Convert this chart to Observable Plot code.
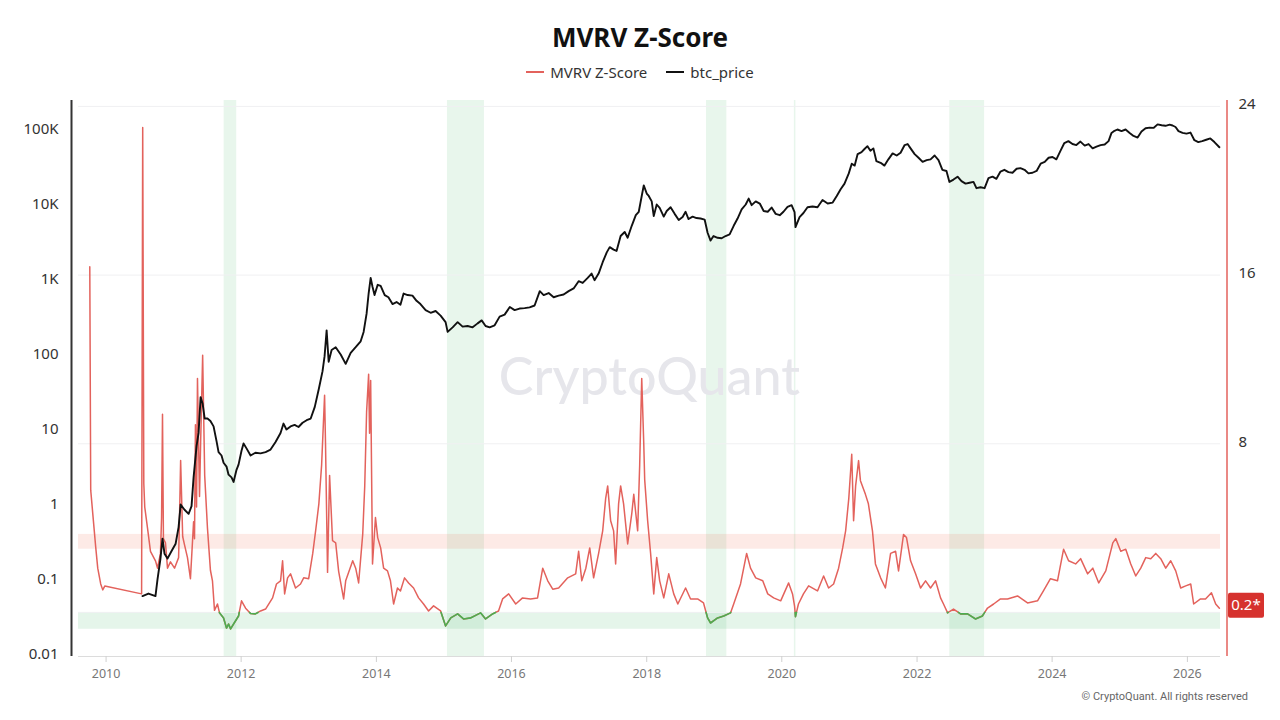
<!DOCTYPE html>
<html>
<head>
<meta charset="utf-8">
<script src="https://cdn.jsdelivr.net/npm/d3@7"></script>
<script src="https://cdn.jsdelivr.net/npm/@observablehq/plot@0.6"></script>
<style>
  body { margin: 0; background: #fff; font-family: "Noto Sans", sans-serif; }
  #wrap { position: relative; width: 1280px; height: 720px; overflow: hidden; }
  #head { height: 88px; text-align: center; }
  #head h1 { margin: 0; padding-top: 20px; font-size: 26px; line-height: 34px; font-weight: 700; color: #111; }
  .legend { display: flex; justify-content: center; gap: 19px; margin-top: 8px; height: 20px; align-items: center; font-size: 15px; color: #333; }
  .legend span.item { display: flex; align-items: center; gap: 6px; }
  .legend i { display: inline-block; width: 18px; height: 2px; }
  #credit { position: absolute; right: 32px; top: 690px; font: 11px Roboto, sans-serif; color: #666; }
  #chart svg { display: block; }
</style>
</head>
<body>
<div id="wrap">
  <div id="head">
    <h1>MVRV Z-Score</h1>
    <div class="legend">
      <span class="item"><i style="background:#e3625c"></i>MVRV Z-Score</span>
      <span class="item"><i style="background:#111"></i>btc_price</span>
    </div>
  </div>
  <div id="chart"></div>
  <div id="credit">© CryptoQuant. All rights reserved</div>
</div>
<script>
// MVRV Z-Score (right axis, linear)
const mvrvZ = [
  ["2009-10-05",16.4],["2009-10-10",5.8],["2009-10-21",4.7],["2009-11-06",3.1],["2009-11-17",2.1],
  ["2009-12-03",1.35],["2009-12-14",1.07],["2009-12-25",1.25],["2010-07-12",0.88],["2010-07-18",23.0],
  ["2010-07-24",6.1],["2010-07-29",5.0],["2010-08-13",4.0],["2010-08-29",2.9],["2010-09-25",2.45],
  ["2010-10-06",2.1],["2010-10-22",2.8],["2010-10-28",4.5],["2010-11-02",9.4],["2010-11-07",3.5],
  ["2010-11-18",3.3],["2010-11-29",2.1],["2010-12-15",2.4],["2011-01-06",2.1],["2011-01-28",2.6],
  ["2011-02-02",4.5],["2011-02-08",7.2],["2011-02-19",3.6],["2011-03-01",3.2],["2011-03-17",2.6],
  ["2011-04-02",1.6],["2011-04-19",4.3],["2011-04-24",3.5],["2011-04-29",8.9],["2011-05-05",5.0],
  ["2011-05-10",11.1],["2011-05-21",5.5],["2011-05-27",8.0],["2011-06-07",12.2],["2011-06-18",6.5],
  ["2011-07-03",4.0],["2011-07-19",2.0],["2011-07-30",1.5],["2011-08-10",0.1],["2011-08-26",0.4],
  ["2011-09-06",-0.02],["2011-09-28",-0.26],["2011-10-14",-0.74],["2011-10-25",-0.55],["2011-11-05",-0.78],
  ["2011-11-21",-0.55],["2011-12-18",-0.17],["2012-01-03",0.55],["2012-01-25",0.2],["2012-02-21",-0.05],
  ["2012-03-18",-0.07],["2012-04-15",0.07],["2012-05-12",0.16],["2012-06-19",0.69],["2012-07-10",1.35],
  ["2012-08-01",1.5],["2012-08-12",2.45],["2012-08-23",0.88],["2012-09-08",1.64],["2012-09-24",1.83],
  ["2012-10-21",1.16],["2012-11-17",1.35],["2012-12-04",1.64],["2012-12-31",1.6],["2013-01-22",2.8],
  ["2013-02-07",3.9],["2013-02-24",5.15],["2013-03-11",7.0],["2013-03-27",10.3],["2013-04-01",8.0],
  ["2013-04-12",1.9],["2013-04-23",6.5],["2013-05-09",3.4],["2013-05-26",3.3],["2013-06-11",1.95],
  ["2013-07-08",0.64],["2013-07-19",1.5],["2013-08-26",2.45],["2013-09-11",2.1],["2013-09-27",1.4],
  ["2013-10-19",3.7],["2013-10-30",6.0],["2013-11-09",9.5],["2013-11-20",11.3],["2013-11-25",8.5],
  ["2013-12-01",11.0],["2013-12-11",2.3],["2013-12-27",4.5],["2014-01-08",3.55],["2014-01-24",3.06],
  ["2014-02-09",2.1],["2014-03-02",1.97],["2014-03-18",1.5],["2014-04-04",0.4],["2014-04-25",1.16],
  ["2014-05-11",1.02],["2014-06-02",1.64],["2014-06-24",1.4],["2014-07-21",1.16],["2014-08-17",0.69],
  ["2014-09-13",0.4],["2014-10-10",0.07],["2014-11-06",0.31],["2014-12-14",0.07],["2015-01-10",-0.64],
  ["2015-02-07",-0.26],["2015-03-16",-0.07],["2015-04-17",-0.31],["2015-05-25",-0.26],["2015-07-18",-0.02],
  ["2015-08-14",-0.31],["2015-09-21",-0.07],["2015-10-23",0.07],["2015-11-14",0.64],["2015-12-17",0.88],
  ["2016-01-24",0.4],["2016-03-01",0.69],["2016-04-13",0.64],["2016-05-21",0.69],["2016-06-18",2.1],
  ["2016-07-15",1.5],["2016-08-11",1.1],["2016-09-12",1.16],["2016-10-31",1.64],["2016-12-13",1.83],
  ["2016-12-29",2.9],["2017-01-15",1.5],["2017-02-06",2.1],["2017-02-27",3.06],["2017-03-20",1.64],
  ["2017-04-16",2.8],["2017-05-08",3.87],["2017-05-24",5.4],["2017-06-04",6.0],["2017-06-20",4.35],
  ["2017-07-06",3.87],["2017-07-17",2.3],["2017-08-02",5.15],["2017-08-13",6.0],["2017-08-29",5.15],
  ["2017-09-20",3.25],["2017-10-12",4.67],["2017-10-23",5.6],["2017-11-13",3.87],["2017-11-24",7.0],
  ["2017-12-05",11.1],["2017-12-16",8.0],["2017-12-21",6.3],["2018-01-06",4.35],["2018-01-22",2.8],
  ["2018-02-08",0.88],["2018-02-24",2.6],["2018-03-12",1.5],["2018-04-03",0.69],["2018-04-30",1.83],
  ["2018-05-27",0.88],["2018-06-18",0.4],["2018-07-30",1.16],["2018-08-26",0.64],["2018-10-03",0.64],
  ["2018-11-04",0.45],["2018-11-26",-0.26],["2018-12-12",-0.5],["2019-01-19",-0.26],["2019-02-21",-0.17],
  ["2019-03-30",-0.02],["2019-04-16",0.4],["2019-05-23",1.35],["2019-06-25",2.8],["2019-07-16",2.1],
  ["2019-08-13",1.64],["2019-09-20",1.5],["2019-10-17",0.88],["2019-11-18",0.69],["2019-12-26",0.55],
  ["2020-02-07",1.4],["2020-02-28",0.88],["2020-03-10",0.3],["2020-03-15",-0.2],["2020-03-31",0.4],
  ["2020-04-27",0.88],["2020-05-25",1.26],["2020-07-12",1.02],["2020-08-14",1.73],["2020-09-10",1.16],
  ["2020-10-07",1.35],["2020-11-03",2.1],["2020-11-25",3.06],["2020-12-11",3.87],["2020-12-28",5.4],
  ["2021-01-13",7.5],["2021-01-23",4.35],["2021-02-03",6.0],["2021-02-19",7.2],["2021-03-01",6.25],
  ["2021-03-28",5.6],["2021-04-13",5.15],["2021-05-05",3.87],["2021-05-21",2.3],["2021-06-18",1.64],
  ["2021-07-14",1.16],["2021-08-11",2.8],["2021-09-07",2.9],["2021-09-23",1.97],["2021-10-20",3.7],
  ["2021-11-05",3.55],["2021-11-27",2.45],["2021-12-24",1.83],["2022-01-20",1.16],["2022-02-16",1.5],
  ["2022-03-15",1.16],["2022-04-11",1.5],["2022-05-08",0.69],["2022-05-24",0.4],["2022-06-15",-0.02],
  ["2022-07-17",0.16],["2022-08-24",-0.07],["2022-10-01",-0.07],["2022-11-13",-0.31],["2022-12-20",-0.17],
  ["2023-01-17",0.21],["2023-02-19",0.4],["2023-03-28",0.64],["2023-05-05",0.64],["2023-06-28",0.78],
  ["2023-08-21",0.45],["2023-10-14",0.55],["2023-11-15",1.02],["2023-12-23",1.6],["2024-01-30",1.5],
  ["2024-03-03",3.0],["2024-03-30",2.45],["2024-05-07",2.3],["2024-06-03",2.55],["2024-07-11",1.83],
  ["2024-08-08",2.1],["2024-09-09",1.4],["2024-10-17",1.97],["2024-11-24",3.3],["2024-12-10",3.5],
  ["2025-01-06",2.9],["2025-02-02",3.0],["2025-03-01",2.3],["2025-03-28",1.73],["2025-04-24",2.1],
  ["2025-05-21",2.6],["2025-06-17",2.55],["2025-07-14",2.8],["2025-08-10",2.55],["2025-09-06",2.1],
  ["2025-10-03",2.45],["2025-10-30",1.97],["2025-11-26",1.16],["2025-12-23",1.26],["2026-01-19",1.35],
  ["2026-02-04",0.4],["2026-03-13",0.64],["2026-04-09",0.64],["2026-05-11",0.93],["2026-06-03",0.4],
  ["2026-06-23",0.2]
];

// BTC price in USD (left axis, log)
const btcPrice = [
  ["2010-07-17",0.06],["2010-08-18",0.065],["2010-09-25",0.06],["2010-10-06",0.1],["2010-10-22",0.19],
  ["2010-11-02",0.35],["2010-11-13",0.22],["2010-11-29",0.19],["2010-12-21",0.24],["2011-01-12",0.3],
  ["2011-01-28",0.5],["2011-02-08",1.0],["2011-03-01",0.85],["2011-03-23",0.75],["2011-04-08",0.95],
  ["2011-04-19",2.3],["2011-05-05",6],["2011-05-16",9],["2011-05-27",27],["2011-06-07",22],
  ["2011-06-18",14],["2011-07-03",14],["2011-07-19",13],["2011-08-05",11],["2011-08-21",7],
  ["2011-09-01",5],["2011-09-17",4.5],["2011-09-28",3.6],["2011-10-14",3.2],["2011-10-25",2.5],
  ["2011-11-10",2.3],["2011-11-21",2.0],["2011-12-07",2.9],["2011-12-18",3.4],["2012-01-03",5.2],
  ["2012-01-14",6.5],["2012-01-30",5.6],["2012-02-21",4.5],["2012-03-18",4.9],["2012-04-15",4.8],
  ["2012-05-12",5.0],["2012-06-08",5.4],["2012-07-05",6.8],["2012-08-01",9.0],["2012-08-17",12],
  ["2012-09-02",10],["2012-09-24",11],["2012-10-16",11.5],["2012-11-06",10.8],["2012-11-28",12.3],
  ["2012-12-20",13.3],["2013-01-11",14],["2013-02-02",20],["2013-02-24",35],["2013-03-16",60],
  ["2013-03-27",95],["2013-04-07",210],["2013-04-18",80],["2013-05-04",115],["2013-05-26",125],
  ["2013-06-22",100],["2013-07-19",75],["2013-08-15",105],["2013-09-11",125],["2013-10-08",150],
  ["2013-10-24",200],["2013-11-09",350],["2013-11-20",650],["2013-12-01",1050],["2013-12-11",800],
  ["2013-12-22",620],["2014-01-08",850],["2014-01-24",820],["2014-02-15",620],["2014-03-07",580],
  ["2014-03-29",470],["2014-04-20",500],["2014-05-11",460],["2014-05-28",650],["2014-06-19",620],
  ["2014-07-15",610],["2014-08-06",520],["2014-08-27",470],["2014-09-24",390],["2014-10-21",360],
  ["2014-11-17",380],["2014-12-14",330],["2015-01-10",270],["2015-01-21",200],["2015-02-17",230],
  ["2015-03-16",270],["2015-04-12",235],["2015-05-09",240],["2015-06-05",230],["2015-07-02",260],
  ["2015-07-24",285],["2015-08-14",240],["2015-09-05",230],["2015-10-02",245],["2015-10-29",320],
  ["2015-11-25",340],["2015-12-23",430],["2016-01-18",390],["2016-02-14",410],["2016-03-12",415],
  ["2016-04-08",425],["2016-05-05",450],["2016-06-02",700],["2016-06-23",620],["2016-07-20",660],
  ["2016-08-16",580],["2016-09-12",610],["2016-10-09",630],["2016-11-05",700],["2016-12-02",760],
  ["2016-12-29",950],["2017-01-20",900],["2017-02-16",1050],["2017-03-09",1200],["2017-03-25",980],
  ["2017-04-16",1200],["2017-05-08",1700],["2017-05-30",2300],["2017-06-15",2700],["2017-07-06",2500],
  ["2017-07-22",2400],["2017-08-13",3800],["2017-09-04",4300],["2017-09-20",3600],["2017-10-12",5200],
  ["2017-11-03",7200],["2017-11-19",8000],["2017-12-05",13000],["2017-12-16",18000],["2018-01-01",14000],
  ["2018-01-12",13000],["2018-01-28",11000],["2018-02-08",7000],["2018-02-24",10000],["2018-03-12",9000],
  ["2018-04-03",6900],["2018-04-19",8200],["2018-05-10",9200],["2018-06-01",7500],["2018-06-23",6200],
  ["2018-07-14",6800],["2018-07-30",8000],["2018-08-15",6400],["2018-09-06",6900],["2018-09-27",6600],
  ["2018-10-19",6500],["2018-11-10",6300],["2018-11-26",4200],["2018-12-12",3300],["2018-12-28",3800],
  ["2019-01-19",3600],["2019-02-10",3550],["2019-03-03",3800],["2019-03-25",4000],["2019-04-16",5200],
  ["2019-05-07",6500],["2019-05-29",8600],["2019-06-20",10000],["2019-07-06",12000],["2019-07-22",9800],
  ["2019-08-13",11000],["2019-09-04",10300],["2019-09-25",8200],["2019-10-17",8000],["2019-11-07",9100],
  ["2019-11-29",7500],["2019-12-21",7200],["2020-01-10",8000],["2020-02-01",9300],["2020-02-23",9800],
  ["2020-03-10",7900],["2020-03-15",5000],["2020-04-06",6800],["2020-04-27",7700],["2020-05-19",9200],
  ["2020-06-15",9400],["2020-07-12",9200],["2020-08-08",11500],["2020-09-05",10300],["2020-10-02",10600],
  ["2020-10-24",13000],["2020-11-14",16000],["2020-12-05",19000],["2020-12-28",26000],["2021-01-13",35000],
  ["2021-01-29",33000],["2021-02-14",47000],["2021-03-07",50000],["2021-03-23",55000],["2021-04-08",60000],
  ["2021-04-24",52000],["2021-05-10",56000],["2021-05-26",38000],["2021-06-18",36000],["2021-07-09",33000],
  ["2021-07-30",40000],["2021-08-22",48000],["2021-09-13",45000],["2021-10-04",49000],["2021-10-26",62000],
  ["2021-11-11",64000],["2021-11-27",56000],["2021-12-19",47000],["2022-01-09",42000],["2022-01-31",37000],
  ["2022-02-22",39000],["2022-03-15",40000],["2022-04-06",45000],["2022-04-27",39000],["2022-05-18",29000],
  ["2022-06-09",28000],["2022-06-25",20000],["2022-07-17",21500],["2022-08-08",23500],["2022-08-29",20500],
  ["2022-09-20",19000],["2022-10-12",19500],["2022-11-02",20000],["2022-11-18",16500],["2022-12-10",17000],
  ["2023-01-01",16500],["2023-01-22",22500],["2023-02-13",23500],["2023-03-06",22000],["2023-03-28",27500],
  ["2023-04-18",29000],["2023-05-10",27000],["2023-06-01",26500],["2023-06-23",30000],["2023-07-14",30500],
  ["2023-08-05",29000],["2023-08-26",26000],["2023-09-17",26500],["2023-10-09",28000],["2023-10-31",35000],
  ["2023-11-22",37000],["2023-12-13",42000],["2024-01-03",43000],["2024-01-24",40000],["2024-02-15",52000],
  ["2024-03-07",66000],["2024-03-29",70000],["2024-04-20",64000],["2024-05-11",62000],["2024-06-02",69000],
  ["2024-06-25",61000],["2024-07-16",64000],["2024-08-07",56000],["2024-08-28",59000],["2024-09-19",62000],
  ["2024-10-11",63000],["2024-11-01",70000],["2024-11-17",90000],["2024-12-03",96000],["2024-12-19",100000],
  ["2025-01-10",95000],["2025-02-01",100000],["2025-02-23",90000],["2025-03-16",82000],["2025-04-07",78000],
  ["2025-04-28",94000],["2025-05-20",104000],["2025-06-11",106000],["2025-07-02",105000],["2025-07-24",117000],
  ["2025-08-15",114000],["2025-09-05",112000],["2025-09-27",116000],["2025-10-13",113000],["2025-10-29",108000],
  ["2025-11-14",95000],["2025-12-06",90000],["2025-12-27",88000],["2026-01-18",91000],["2026-02-08",72000],
  ["2026-03-01",68000],["2026-03-22",70000],["2026-04-13",73000],["2026-05-05",76000],["2026-05-27",68000],
  ["2026-06-23",58000]
];

// Shaded periods (undervalued windows)
const zoneStart = ["2011-10-01","2015-01-20","2018-11-20","2020-03-09","2022-06-27"];
const zoneEnd   = ["2011-12-08","2015-08-08","2019-03-10","2020-03-17","2023-01-01"];

// Horizontal Z-Score bands
const overheatedBand = [3.0, 3.7];
const undervaluedBand = [-0.8, 0];

// Axis ticks
const priceTicks = [0.01, 0.1, 1, 10, 100, 1000, 10000, 100000];
const priceTickLabels = ["0.01", "0.1", "1", "10", "100", "1K", "10K", "100K"];
const zTicks = [0, 8, 16, 24];
const zTickLabels = ["", "8", "16", "24"];
const lastLabel = "0.2*";

// Scale domains
const xDomain = [new Date("2009-08-05"), new Date("2026-06-29")];
const priceDomain = [0.0094, 243600];
const zDomain = [-2.09, 24.28];

const RED = "#e3625c";
const GREEN = "#4cad50";

// Map Z-Score onto the log price scale so both share one frame
const L0 = Math.log10(priceDomain[0]), L1 = Math.log10(priceDomain[1]);
const zToPrice = z => 10 ** (L0 + (z - zDomain[0]) / (zDomain[1] - zDomain[0]) * (L1 - L0));

const parse = d3.utcParse("%Y-%m-%d");
const zRowsRaw = mvrvZ.map(([d, z]) => ({date: parse(d), z}));
// insert zero crossings so the below-zero stretch can be recoloured exactly
const zRows = [];
zRowsRaw.forEach((r, i) => {
  if (i > 0) {
    const p = zRowsRaw[i - 1];
    if ((p.z < 0) !== (r.z < 0) && p.z !== 0 && r.z !== 0) {
      const t = p.z / (p.z - r.z);
      zRows.push({date: new Date(+p.date + t * (r.date - p.date)), z: 0});
    }
  }
  zRows.push(r);
});
const priceRows = btcPrice.map(([d, v]) => ({date: parse(d), price: v}));
const zones = zoneStart.map((s, i) => ({start: parse(s), end: parse(zoneEnd[i])}));
const hBands = [
  {lo: overheatedBand[0], hi: overheatedBand[1], fill: "#f47c64"},
  {lo: undervaluedBand[0], hi: undervaluedBand[1], fill: "#5cc07a"}
];
const zTickRows = zTicks.map((z, i) => ({z, label: zTickLabels[i]}));
const last = zRowsRaw[zRowsRaw.length - 1];

const xTicks = d3.utcYear.every(2).range(xDomain[0], xDomain[1]);

// value badge on the right axis
function badge(index, scales, values, dims) {
  const y = scales.y(zToPrice(last.z));
  const x0 = dims.width - dims.marginRight + 8;
  const g = d3.create("svg:g");
  g.append("rect").attr("x", x0).attr("y", y - 15).attr("width", 36).attr("height", 25)
    .attr("rx", 2).attr("fill", "#d6322e");
  g.append("text").attr("x", x0 + 18).attr("y", y - 2.5).attr("dy", "0.35em")
    .attr("text-anchor", "middle").attr("fill", "#fff").attr("font-size", 15)
    .attr("font-family", "Noto Sans, sans-serif").text(lastLabel);
  return g.node();
}

const chart = Plot.plot({
  width: 1280,
  height: 632,
  marginTop: 12,
  marginBottom: 64,
  marginLeft: 78,
  marginRight: 60,
  style: {fontFamily: "Noto Sans, sans-serif", background: "transparent", overflow: "visible"},
  x: {type: "utc", domain: xDomain},
  y: {type: "log", domain: priceDomain},
  marks: [
    Plot.rect(zones, {x1: "start", x2: "end", fill: "#5cc07a", fillOpacity: 0.14}),
    Plot.rect(hBands, {y1: d => zToPrice(d.lo), y2: d => zToPrice(d.hi), fill: "fill", fillOpacity: 0.16}),
    Plot.ruleY(zTicks, {y: zToPrice, stroke: "#f0f0f2"}),
    Plot.text(["CryptoQuant"], {frameAnchor: "middle", fontSize: 52, fontWeight: 500,
      fontFamily: "Lato, sans-serif", fill: "#e6e6eb"}),
    Plot.ruleY([priceDomain[0]], {stroke: "#dcdcdc"}),
    Plot.line(zRows, {x: "date", y: d => zToPrice(d.z), stroke: RED, strokeWidth: 1.5}),
    Plot.line(zRows, {x: "date", y: d => d.z <= 0 ? zToPrice(d.z) : NaN, stroke: GREEN, strokeWidth: 1.6}),
    Plot.line(priceRows, {x: "date", y: "price", stroke: "#111", strokeWidth: 1.9}),
    Plot.ruleX([xDomain[0]], {dx: -7, stroke: "#333", strokeWidth: 2}),
    Plot.ruleX([xDomain[1]], {dx: 6.5, stroke: RED, strokeWidth: 1.5}),
    Plot.axisY({anchor: "left", ticks: priceTicks, tickSize: 0, tickPadding: 20,
      tickFormat: v => priceTickLabels[priceTicks.indexOf(v)], fontSize: 15, fill: "#333", label: null}),
    Plot.text(zTickRows, {y: d => zToPrice(d.z), text: "label", frameAnchor: "right", dx: 18, dy: -2,
      textAnchor: "start", fontSize: 15, fill: "#333"}),
    Plot.axisX({ticks: xTicks, tickFormat: d3.utcFormat("%Y"), tickSize: 6, tickPadding: 7,
      stroke: "#d0d0d0", fill: "#777", fontSize: 12.5, label: null}),
    badge
  ]
});
document.getElementById("chart").appendChild(chart);
</script>
</body>
</html>
